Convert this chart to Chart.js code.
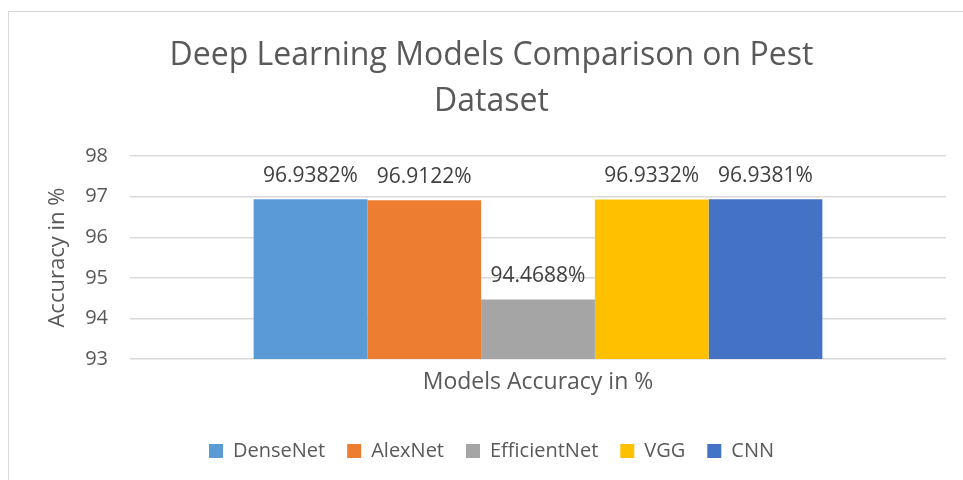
<!DOCTYPE html>
<html>
<head>
<meta charset="utf-8">
<script src="https://cdn.jsdelivr.net/npm/chart.js@4"></script>
<style>
  body { margin: 0; background: #fff; }
  #wrap { position: relative; width: 963px; height: 480px; overflow: hidden; }
  #frame { position: absolute; left: 8px; top: 11px; width: 1000px; height: 600px; border: 1px solid #d9d9d9; pointer-events: none; }
</style>
</head>
<body>
<div id="wrap">
  <canvas id="chart" width="963" height="480"></canvas>
  <div id="frame"></div>
</div>
<script>
const categories = ['Models Accuracy in %'];
const models = ['DenseNet', 'AlexNet', 'EfficientNet', 'VGG', 'CNN'];
const accuracy = [96.9382, 96.9122, 94.4688, 96.9332, 96.9381];
const colors = ['#5b9bd5', '#ed7d31', '#a5a5a5', '#ffc000', '#4472c4'];
const yTicks = [93, 94, 95, 96, 97, 98];

const fontFamily = '"Open Sans", sans-serif';
const textColor = '#595959';

// percentage labels above each bar
const valueLabels = {
  id: 'valueLabels',
  afterDatasetsDraw(chart) {
    const { ctx } = chart;
    ctx.save();
    ctx.font = '21px ' + fontFamily;
    ctx.fillStyle = '#404040';
    ctx.textAlign = 'center';
    ctx.textBaseline = 'alphabetic';
    chart.data.datasets.forEach((ds, i) => {
      const bar = chart.getDatasetMeta(i).data[0];
      ctx.fillText(ds.data[0].toFixed(4) + '%', bar.x, bar.y - 17);
    });
    ctx.restore();
  }
};

new Chart(document.getElementById('chart'), {
  type: 'bar',
  data: {
    labels: categories,
    datasets: models.map((m, i) => ({
      label: m,
      data: [accuracy[i]],
      backgroundColor: colors[i],
      categoryPercentage: 0.697,
      barPercentage: 1
    }))
  },
  options: {
    responsive: false,
    animation: false,
    layout: {
      padding: { top: 0, left: 37, right: 17, bottom: 9 }
    },
    plugins: {
      title: {
        display: true,
        text: ['Deep Learning Models Comparison on Pest', 'Dataset'],
        color: textColor,
        font: { family: fontFamily, size: 32, weight: 'normal', lineHeight: 1.44 },
        padding: { top: 33, bottom: 31 }
      },
      legend: {
        position: 'bottom',
        labels: {
          color: textColor,
          font: { family: fontFamily, size: 20 },
          boxWidth: 14,
          boxHeight: 14,
          padding: 22
        }
      },
      tooltip: { enabled: false }
    },
    scales: {
      x: {
        grid: { display: false },
        border: { display: false },
        ticks: {
          color: textColor,
          font: { family: fontFamily, size: 23 },
          padding: 2
        },
        afterFit: (scale) => { scale.height = 60; }
      },
      y: {
        min: 93,
        max: 98,
        afterBuildTicks: (scale) => { scale.ticks = yTicks.map(v => ({ value: v })); },
        grid: { color: '#d9d9d9', lineWidth: 1.5, drawTicks: false },
        border: { display: false },
        ticks: {
          color: textColor,
          font: { family: fontFamily, size: 20 },
          padding: 22
        },
        title: {
          display: true,
          text: 'Accuracy in %',
          color: textColor,
          font: { family: fontFamily, size: 22 },
          padding: { top: 8, bottom: 0 }
        },
        afterFit: (scale) => { scale.width = 93; }
      }
    }
  },
  plugins: [valueLabels]
});
</script>
</body>
</html>
